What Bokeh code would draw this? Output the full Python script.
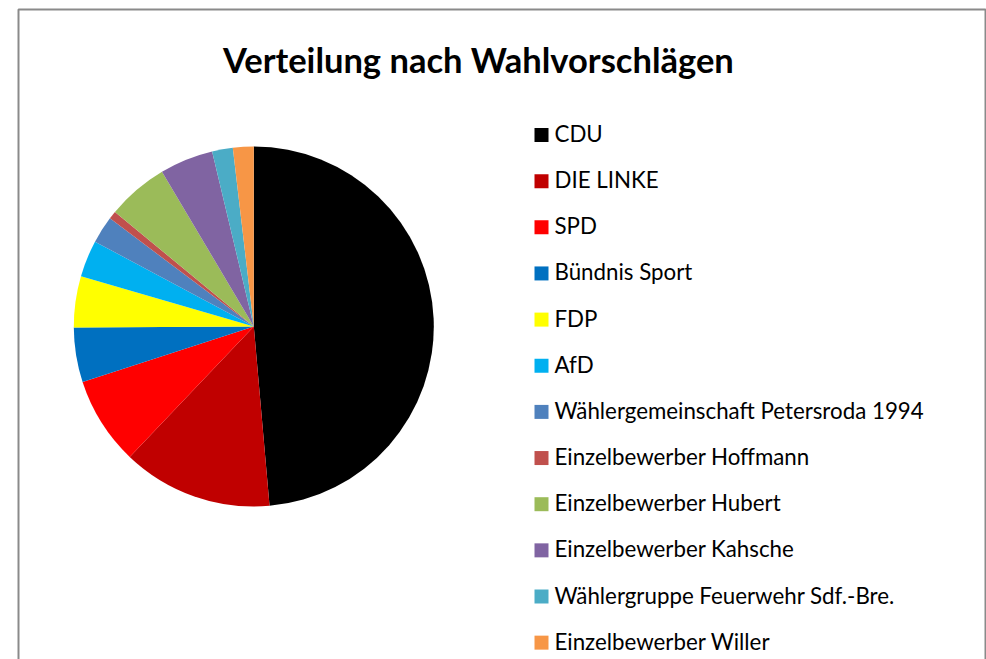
import numpy as np
from bokeh.plotting import figure
from bokeh.models import ColumnDataSource, Range1d
from bokeh.embed import file_html
from bokeh.resources import INLINE
from bokeh.core.properties import value

# ---- data ----
title_text = "Verteilung nach Wahlvorschlägen"
parties = [
    "CDU",
    "DIE LINKE",
    "SPD",
    "Bündnis Sport",
    "FDP",
    "AfD",
    "Wählergemeinschaft Petersroda 1994",
    "Einzelbewerber Hoffmann",
    "Einzelbewerber Hubert",
    "Einzelbewerber Kahsche",
    "Wählergruppe Feuerwehr Sdf.-Bre.",
    "Einzelbewerber Willer",
]
shares = [48.6, 13.5, 7.9, 4.9, 4.6, 3.3, 2.45, 0.72, 5.5, 4.8, 1.86, 1.86]
colors = [
    "#000000", "#C00000", "#FF0000", "#0070C0", "#FFFF00", "#00B0F0",
    "#4F81BD", "#C0504D", "#9BBB59", "#8064A2", "#4BACC6", "#F79646",
]

# ---- layout (pixel coordinates, y measured from top) ----
W, H = 986, 659
FONT = "Lato"
cx, cy, r = 253.3, 326.0, 180.0

frac = np.array(shares) / np.sum(shares)
cum_end = np.cumsum(frac)
cum_start = cum_end - frac
start_angle = np.pi / 2 - cum_start * 2 * np.pi
end_angle = np.pi / 2 - cum_end * 2 * np.pi

pie_src = ColumnDataSource(dict(
    party=parties, share=shares, color=colors,
    start=start_angle, end=end_angle,
))

idx = np.arange(len(parties))
row_y = 134.5 + idx * 46.15
leg_src = ColumnDataSource(dict(
    party=parties, color=colors,
    my=H - row_y,
    ty=H - (row_y - 1.5),
))

p = figure(width=W, height=H, x_range=Range1d(0, W), y_range=Range1d(0, H),
           output_backend="svg", toolbar_location=None,
           x_axis_location=None, y_axis_location=None, min_border=0)
p.grid.visible = False
p.outline_line_color = None
p.background_fill_color = "white"
p.border_fill_color = "white"

# chart border
p.quad(left=18, right=985, top=H - 9, bottom=-20, fill_color=None,
       line_color="#8A8A8A", line_width=2)

# pie
p.wedge(x=cx, y=H - cy, radius=r, start_angle="start", end_angle="end",
        direction="clock", fill_color="color", line_color=None, source=pie_src)

# title
p.text(x=[478], y=[H - 58.5], text=[title_text], text_font=value(FONT),
       text_font_style="bold", text_font_size="34.5px", text_align="center",
       text_baseline="middle", text_color="#000000")

# legend
p.rect(x=541, y="my", width=14, height=14, fill_color="color",
       line_color=None, source=leg_src)
p.text(x=554, y="ty", text="party", text_font=value(FONT),
       text_font_size="22.3px", text_baseline="middle",
       text_color="#000000", source=leg_src)

open("out.html", "w").write(file_html(p, INLINE))
